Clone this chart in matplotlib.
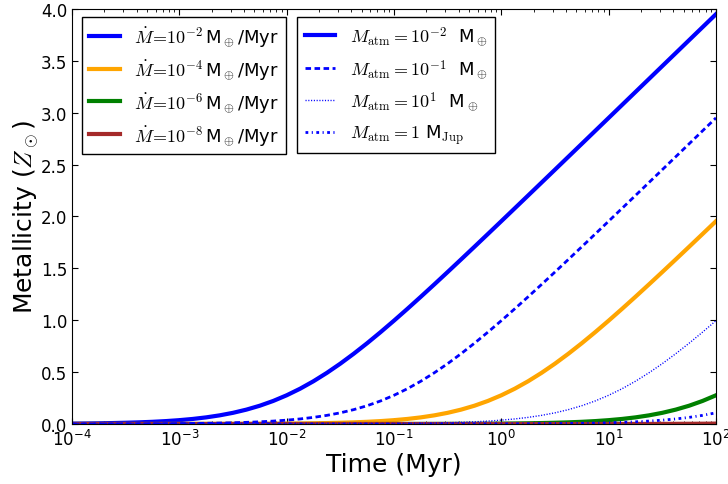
import numpy as np
import matplotlib
matplotlib.use('Agg')
import matplotlib.pyplot as plt

plt.rcParams['mathtext.fontset'] = 'cm'
plt.rcParams['axes.unicode_minus'] = False
plt.rcParams['font.family'] = ['DejaVu Sans']
plt.rcParams['lines.scale_dashes'] = False

# time grid in Myr, eighth-decade steps from 1e-4 to 1e2
time = np.logspace(-4, 2, 49)

# metallicity (Z_sun) for each accretion rate, M_atm = 1e-2 M_earth
zMdot2 = [0.0039, 0.0051, 0.0068, 0.0091, 0.0121, 0.0160, 0.0212, 0.0281,
          0.0371, 0.0488, 0.0639, 0.0833, 0.1078, 0.1386, 0.1764, 0.2223,
          0.2768, 0.3401, 0.4124, 0.4932, 0.5818, 0.6775, 0.7790, 0.8856,
          0.9962, 1.1101, 1.2266, 1.3451, 1.4651, 1.5864, 1.7086, 1.8315,
          1.9549, 2.0787, 2.2027, 2.3271, 2.4515, 2.5762, 2.7009, 2.8257,
          2.9505, 3.0754, 3.2003, 3.3252, 3.4502, 3.5751, 3.7001, 3.8251, 3.9500]
zMdot4 = [0.0, 0.0, 0.0, 0.0, 0.0, 0.0, 0.0, 0.0,
          0.0004, 0.0005, 0.0007, 0.0009, 0.0012, 0.0016, 0.0022, 0.0029,
          0.0039, 0.0051, 0.0068, 0.0091, 0.0121, 0.0160, 0.0212, 0.0281,
          0.0371, 0.0488, 0.0639, 0.0833, 0.1078, 0.1386, 0.1764, 0.2223,
          0.2768, 0.3401, 0.4124, 0.4932, 0.5818, 0.6775, 0.7790, 0.8856,
          0.9962, 1.1101, 1.2266, 1.3451, 1.4651, 1.5864, 1.7086, 1.8315, 1.9549]
zMdot6 = [0.0, 0.0, 0.0, 0.0, 0.0, 0.0, 0.0, 0.0,
          0.0, 0.0, 0.0, 0.0, 0.0, 0.0, 0.0, 0.0,
          0.0, 0.0, 0.0, 0.0, 0.0, 0.0, 0.0, 0.0,
          0.0004, 0.0005, 0.0007, 0.0009, 0.0012, 0.0016, 0.0022, 0.0029,
          0.0039, 0.0051, 0.0068, 0.0091, 0.0121, 0.0160, 0.0212, 0.0281,
          0.0371, 0.0488, 0.0639, 0.0833, 0.1078, 0.1386, 0.1764, 0.2223, 0.2768]
zMdot8 = [0.0, 0.0, 0.0, 0.0, 0.0, 0.0, 0.0, 0.0,
          0.0, 0.0, 0.0, 0.0, 0.0, 0.0, 0.0, 0.0,
          0.0, 0.0, 0.0, 0.0, 0.0, 0.0, 0.0, 0.0,
          0.0, 0.0, 0.0, 0.0, 0.0, 0.0, 0.0, 0.0,
          0.0, 0.0, 0.0, 0.0, 0.0, 0.0, 0.0, 0.0,
          0.0004, 0.0005, 0.0007, 0.0009, 0.0012, 0.0016, 0.0022, 0.0029, 0.0039]

# metallicity for other atmosphere masses, Mdot = 1e-2 M_earth/Myr
zAtm1 = [0.0004, 0.0005, 0.0007, 0.0009, 0.0012, 0.0016, 0.0022, 0.0029,
         0.0039, 0.0051, 0.0068, 0.0091, 0.0121, 0.0160, 0.0212, 0.0281,
         0.0371, 0.0488, 0.0639, 0.0833, 0.1078, 0.1386, 0.1764, 0.2223,
         0.2768, 0.3401, 0.4124, 0.4932, 0.5818, 0.6775, 0.7790, 0.8856,
         0.9962, 1.1101, 1.2266, 1.3451, 1.4651, 1.5864, 1.7086, 1.8315,
         1.9549, 2.0787, 2.2027, 2.3271, 2.4515, 2.5762, 2.7009, 2.8257, 2.9505]
zAtm10 = [0.0, 0.0, 0.0, 0.0, 0.0, 0.0, 0.0, 0.0,
          0.0, 0.0, 0.0, 0.0, 0.0, 0.0, 0.0, 0.0,
          0.0004, 0.0005, 0.0007, 0.0009, 0.0012, 0.0016, 0.0022, 0.0029,
          0.0039, 0.0051, 0.0068, 0.0091, 0.0121, 0.0160, 0.0212, 0.0281,
          0.0371, 0.0488, 0.0639, 0.0833, 0.1078, 0.1386, 0.1764, 0.2223,
          0.2768, 0.3401, 0.4124, 0.4932, 0.5818, 0.6775, 0.7790, 0.8856, 0.9962]
zAtmJup = [0.0, 0.0, 0.0, 0.0, 0.0, 0.0, 0.0, 0.0,
           0.0, 0.0, 0.0, 0.0, 0.0, 0.0, 0.0, 0.0,
           0.0, 0.0, 0.0, 0.0, 0.0, 0.0, 0.0, 0.0,
           0.0, 0.0, 0.0, 0.0, 0.0004, 0.0005, 0.0007, 0.0009,
           0.0012, 0.0016, 0.0022, 0.0029, 0.0039, 0.0051, 0.0068, 0.0091,
           0.0121, 0.0160, 0.0212, 0.0281, 0.0371, 0.0488, 0.0639, 0.0833, 0.1078]

mdotLabels = [r'$\dot{M}\!=\!10^{-2}\,$M$_\oplus$/Myr', r'$\dot{M}\!=\!10^{-4}\,$M$_\oplus$/Myr',
              r'$\dot{M}\!=\!10^{-6}\,$M$_\oplus$/Myr', r'$\dot{M}\!=\!10^{-8}\,$M$_\oplus$/Myr']
atmLabels = [r'$M_{\rm atm}=10^{-2}$  M$_\oplus$', r'$M_{\rm atm}=10^{-1}$  M$_\oplus$',
             r'$M_{\rm atm}=10^{1}$  M$_\oplus$', r'$M_{\rm atm}=1$ M$_{\rm Jup}$']

fig = plt.figure(figsize=(7.28, 4.85), dpi=100)
ax = fig.add_subplot(111)
fig.subplots_adjust(left=0.0989, right=0.9835, bottom=0.1237, top=0.9794)

mdotColors = ['blue', 'orange', 'green', 'brown']
mdotLines = []
for z, c, lab in zip([zMdot2, zMdot4, zMdot6, zMdot8], mdotColors, mdotLabels):
    ln, = ax.plot(time, z, color=c, lw=3, label=lab)
    mdotLines.append(ln)

atmLines = [ax.plot([], [], color='blue', lw=3)[0]]
ln, = ax.plot(time, zAtm1, color='blue', lw=2, dashes=(4, 2.5))
atmLines.append(ln)
ln, = ax.plot(time, zAtm10, color='blue', lw=1, dashes=(0.8, 1.2))
atmLines.append(ln)
ln, = ax.plot(time, zAtmJup, color='blue', lw=2, dashes=(2, 2.5, 0.8, 2.5))
atmLines.append(ln)

ax.set_xscale('log')
ax.set_xlim(1e-4, 1e2)
ax.set_ylim(0, 4)
ax.set_yticks(np.arange(0, 4.01, 0.5))
ax.yaxis.set_major_formatter(matplotlib.ticker.FormatStrFormatter('%.1f'))
ax.tick_params(which='both', direction='in', top=True, right=True, labelsize=12)
ax.tick_params(which='major', length=4)
ax.tick_params(which='minor', length=2)
ax.set_xlabel('Time (Myr)', fontsize=18, labelpad=2)
ax.set_ylabel(r'Metallicity ($Z_\odot$)', fontsize=18, labelpad=0)

leg1 = ax.legend(mdotLines, mdotLabels, loc='upper left', bbox_to_anchor=(0.015, 0.98),
                 borderaxespad=0, fontsize=13, fancybox=False, framealpha=1, edgecolor='k',
                 handlelength=1.7)
ax.add_artist(leg1)
ax.legend(atmLines, atmLabels, loc='upper left', bbox_to_anchor=(0.35, 0.98),
          borderaxespad=0, fontsize=13, fancybox=False, framealpha=1, edgecolor='k',
          handlelength=1.7)

fig.savefig('out.png', dpi=100)
